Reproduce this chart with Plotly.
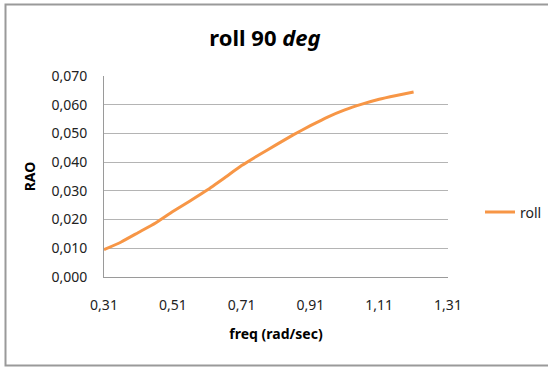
import plotly.graph_objects as go

# Roll RAO at 90 deg heading
freq = [0.31, 0.36, 0.41, 0.46, 0.51, 0.56, 0.61, 0.66, 0.71, 0.76,
        0.81, 0.86, 0.91, 0.96, 1.01, 1.06, 1.11, 1.16, 1.21]
roll = [0.0095, 0.0122, 0.0155, 0.0188, 0.0228, 0.0265, 0.0303, 0.0345, 0.0388, 0.0425,
        0.0460, 0.0495, 0.0527, 0.0557, 0.0582, 0.0602, 0.0619, 0.0632, 0.0644]

FONT = "Noto Sans"
W, H = 548, 368
L, R, T, B = 104, 100, 76, 91
pw, ph = W - L - R, H - T - B

fig = go.Figure()
fig.add_trace(go.Scatter(
    x=freq, y=roll, mode="lines", name="roll",
    line=dict(color="#F79646", width=3, shape="spline", smoothing=0.4),
))

# Outer chart border (in plot-area paper coordinates)
def px_x(v):
    return (v - L) / pw

def px_y(v):
    return (H - B - v) / ph

fig.add_shape(type="rect", xref="paper", yref="paper",
              x0=px_x(5.5), x1=px_x(W + 20), y0=px_y(365.5), y1=px_y(4.5),
              line=dict(color="#9a9a9a", width=2), fillcolor="rgba(0,0,0,0)", layer="below")

fig.update_layout(
    width=W, height=H,
    margin=dict(l=L, r=R, t=T, b=B, autoexpand=False),
    paper_bgcolor="white", plot_bgcolor="white",
    separators=",.",
    font=dict(family=FONT, size=14, color="#222"),
    title=dict(text="<b>roll 90 <i>deg</i></b>", xref="container", yref="container",
               x=265 / W, y=1 - 38 / H, xanchor="center", yanchor="middle",
               font=dict(family=FONT, size=22, color="black")),
    showlegend=True,
    legend=dict(xref="paper", yref="paper", x=px_x(480), y=px_y(212.5),
                xanchor="left", yanchor="middle", bgcolor="rgba(0,0,0,0)",
                font=dict(family=FONT, size=14, color="#222")),
    xaxis=dict(range=[0.31, 1.31], tick0=0.31, dtick=0.2, tickformat=".2f",
               showgrid=False, zeroline=False, showline=True, linecolor="#9a9a9a", linewidth=1,
               ticks="", ticklabelstandoff=15,
               title=dict(text="<b>freq (rad/sec)</b>", standoff=16,
                          font=dict(family=FONT, size=14, color="black"))),
    yaxis=dict(range=[0, 0.07], dtick=0.01, tickformat=".3f",
               showgrid=True, gridcolor="#b4b4b4", gridwidth=1,
               zeroline=False, showline=True, linecolor="#9a9a9a", linewidth=1,
               ticks="", ticklabelstandoff=13,
               title=dict(text="<b>RAO</b>", standoff=12,
                          font=dict(family=FONT, size=14, color="black"))),
)

fig.write_html("out.html")
